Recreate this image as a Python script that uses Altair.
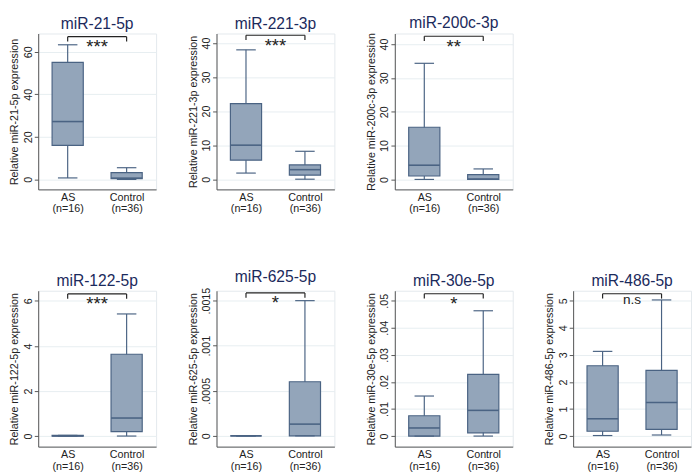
import altair as alt
import pandas as pd

genes = ["miR-21-5p", "miR-221-3p", "miR-200c-3p",
         "miR-122-5p", "miR-625-5p", "miR-30e-5p", "miR-486-5p"]
groups = ["AS", "Control"]
group_n = ["(n=16)", "(n=36)"]

# per gene: [AS, Control]
mins = [[0.7, 0.0], [1.8, 0.0], [0.0, 0.0], [0.0, 0.0], [0.0, 0.0], [0.0, 0.0], [0.02, 0.04]]
q1s = [[16.0, 0.3], [5.6, 1.2], [1.0, 0.0], [0.0, 0.2], [0.0, 0.0], [0.0, 0.0012], [0.18, 0.25]]
meds = [[27.2, 0.6], [10.0, 2.8], [4.2, 0.1], [0.01, 0.8], [0.0, 0.00013], [0.003, 0.0095], [0.64, 1.24]]
q3s = [[55.0, 3.2], [22.2, 4.2], [15.4, 1.4], [0.03, 3.63], [0.0, 0.0006], [0.0075, 0.0228], [2.6, 2.43]]
maxs = [[63.3, 5.5], [38.0, 8.2], [34.3, 3.1], [0.03, 5.42], [0.0, 0.0015], [0.0148, 0.0463], [3.13, 5.03]]

sig = ["***", "***", "**", "***", "*", "*", "n.s"]
bracket_y = [67.1, 42.3, 42.3, 6.31, 0.001586, 0.0526, 5.26]
y_ticks = [[0, 20, 40, 60], [0, 10, 20, 30, 40], [0, 10, 20, 30, 40], [0, 2, 4, 6],
           [0, 0.0005, 0.001, 0.0015], [0, 0.01, 0.02, 0.03, 0.04, 0.05], [0, 1, 2, 3, 4, 5]]
y_domains = [[-4.7, 68.6], [-3.0, 42.8], [-2.95, 43.1], [-0.47, 6.45],
             [-0.00012, 0.00161], [-0.0039, 0.0537], [-0.39, 5.37]]

W, H = 121, 160
FILL = "#93a5ba"
EDGE = "#4a6383"
TITLE_COLOR = "#1b2a5c"
FONT = "Liberation Sans"

label_expr = "[datum.label, " + " : ".join(
    [f"datum.label == '{g}' ? '{n}'" for g, n in zip(groups[:-1], group_n[:-1])]
) + f" : '{group_n[-1]}']"

y_label_expr = ("datum.value > 0 && datum.value < 1 ? "
                "substring(format(datum.value, '~g'), 1) : format(datum.value, '~g')")


def panel(i):
    df = pd.DataFrame({
        "group": groups,
        "lo": mins[i], "q1": q1s[i], "med": meds[i], "q3": q3s[i], "hi": maxs[i],
        "b": [bracket_y[i]] * 2,
    })
    br = pd.DataFrame({"g1": [groups[0]], "g2": [groups[1]], "b": [bracket_y[i]], "sig": [sig[i]]})

    x_axis = alt.Axis(title=None, labelExpr=label_expr, labelAngle=0, ticks=False,
                      labelPadding=2, labelLineHeight=12, domainColor="#555",
                      labelFontSize=11, labelColor="#222", labelFont=FONT)
    xscale = alt.Scale(type="point", domain=groups, padding=0.5)
    x = alt.X("group:N", scale=xscale, axis=x_axis)
    yscale = alt.Scale(domain=y_domains[i], nice=False, zero=False)
    y_axis = alt.Axis(title=f"Relative {genes[i]} expression", values=y_ticks[i],
                      labelExpr=y_label_expr, labelAngle=270, labelAlign="center",
                      labelBaseline="bottom", tickSize=4, labelPadding=1, titlePadding=3,
                      labelOverlap=False, labelBound=False,
                      grid=True, gridColor="#e6eef1", domainColor="#555", tickColor="#555",
                      labelFontSize=11, titleFontSize=11, titleFontWeight="normal",
                      labelColor="#222", titleColor="#222", labelFont=FONT, titleFont=FONT)

    def Y(f):
        return alt.Y(f, scale=yscale, axis=y_axis)

    base = alt.Chart(df)
    whisk = base.mark_rule(color=EDGE, strokeWidth=1.2).encode(
        x=x, y=Y("lo:Q"), y2="hi:Q")
    box = base.mark_bar(size=32, fill=FILL, stroke=EDGE, strokeWidth=1.2).encode(
        x=x, y=Y("q1:Q"), y2="q3:Q")
    med = base.mark_tick(size=32, thickness=1.6, color=EDGE, opacity=1).encode(
        x=x, y=Y("med:Q"))
    cap_lo = base.mark_tick(size=20, thickness=1.2, color=EDGE, opacity=1).encode(
        x=x, y=Y("lo:Q"))
    cap_hi = base.mark_tick(size=20, thickness=1.2, color=EDGE, opacity=1).encode(
        x=x, y=Y("hi:Q"))
    ends = base.mark_rule(color="#222", strokeWidth=1.2, y2Offset=5).encode(
        x=x, y=Y("b:Q"), y2="b:Q")
    hbar = alt.Chart(br).mark_rule(color="#222", strokeWidth=1.2).encode(
        x=alt.X("g1:N", scale=xscale, axis=x_axis), x2="g2:N", y=Y("b:Q"))
    is_ns = sig[i] == "n.s"
    txt = alt.Chart(br).mark_text(baseline="top", align="center", font=FONT,
                                  fontSize=14 if is_ns else 19, dy=0 if is_ns else 2,
                                  color="#222").encode(
        x=alt.value(W / 2), y=Y("b:Q"), text="sig:N")

    return alt.layer(whisk, box, med, cap_lo, cap_hi, ends, hbar, txt).properties(
        width=W, height=H,
        title=alt.TitleParams(genes[i], fontSize=16, color=TITLE_COLOR, font=FONT,
                              fontWeight="normal", offset=2, anchor="middle"))


row1 = alt.hconcat(*[panel(i) for i in range(3)], spacing=30)
row2 = alt.hconcat(*[panel(i) for i in range(3, 7)], spacing=30)
chart = alt.vconcat(row1, row2, spacing=55).properties(padding=0).configure_view(
    stroke="#e3e8ec", strokeWidth=1)

chart.save("out.html", embed_options={"renderer": "svg", "actions": False})
